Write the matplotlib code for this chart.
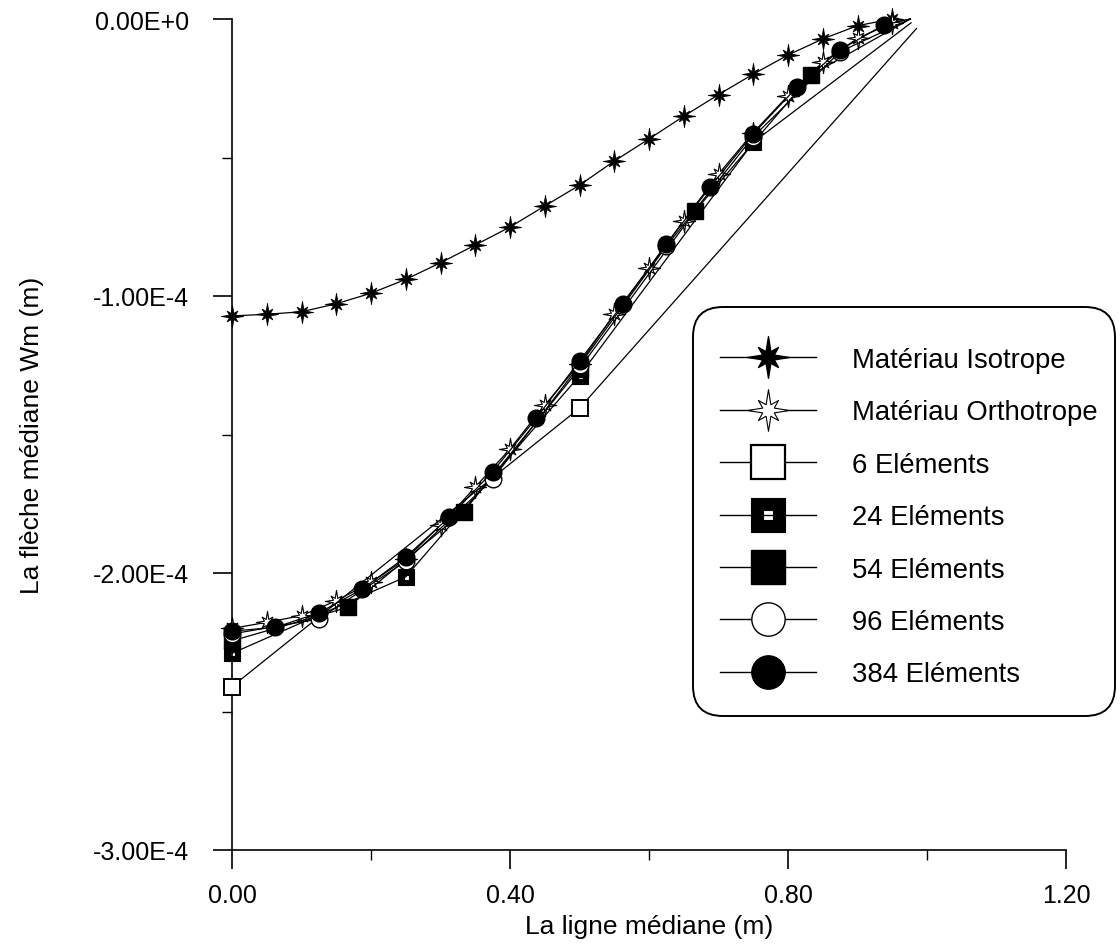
import numpy as np
import matplotlib
matplotlib.use("Agg")
import matplotlib.pyplot as plt
from matplotlib.lines import Line2D
from matplotlib.path import Path
from matplotlib.patches import FancyBboxPatch
from matplotlib.transforms import IdentityTransform

plt.rcParams['font.family'] = ['Liberation Sans', 'DejaVu Sans']

# ---- data (deflection values in units of 1e-4 m) ----
x_iso = [0.00, 0.05, 0.10, 0.15, 0.20, 0.25, 0.30, 0.35, 0.40, 0.45,
         0.50, 0.55, 0.60, 0.65, 0.70, 0.75, 0.80, 0.85, 0.90, 0.95]
w_iso = [-1.072, -1.066, -1.057, -1.028, -0.990, -0.940, -0.880, -0.816, -0.751, -0.675,
         -0.600, -0.513, -0.433, -0.351, -0.273, -0.199, -0.130, -0.072, -0.024, 0.000]

x_ortho = [0.00, 0.05, 0.10, 0.15, 0.20, 0.25, 0.30, 0.35, 0.40, 0.45,
           0.50, 0.55, 0.60, 0.65, 0.70, 0.75, 0.80, 0.85, 0.90, 0.95, 0.976]
w_ortho = [-2.200, -2.178, -2.154, -2.100, -2.034, -1.950, -1.827, -1.690, -1.552, -1.394,
           -1.245, -1.065, -0.900, -0.728, -0.560, -0.410, -0.277, -0.156, -0.070, -0.014, 0.000]

x_6 = [0.0, 0.5, 0.985]
w_6 = [-2.410, -1.405, -0.034]

x_24 = [0.0, 0.25, 0.5, 0.75, 0.977]
w_24 = [-2.290, -2.014, -1.288, -0.445, -0.014]

x_54 = [0.0, 0.1667, 0.3333, 0.5, 0.6667, 0.8333, 0.976]
w_54 = [-2.245, -2.124, -1.779, -1.262, -0.692, -0.202, 0.000]

x_96 = [0.0, 0.125, 0.25, 0.375, 0.5, 0.625, 0.75, 0.875, 0.976]
w_96 = [-2.220, -2.166, -1.958, -1.661, -1.250, -0.820, -0.425, -0.118, 0.000]

x_384 = [0.0, 0.0625, 0.125, 0.1875, 0.25, 0.3125, 0.375, 0.4375, 0.5,
         0.5625, 0.625, 0.6875, 0.75, 0.8125, 0.875, 0.9375, 0.976]
w_384 = [-2.210, -2.196, -2.144, -2.058, -1.942, -1.799, -1.634, -1.442, -1.234,
         -1.029, -0.812, -0.608, -0.415, -0.247, -0.111, -0.022, 0.000]

labels = ["Matériau Isotrope", "Matériau Orthotrope", "6 Eléments",
          "24 Eléments", "54 Eléments", "96 Eléments", "384 Eléments"]

x_ticks = [0.0, 0.4, 0.8, 1.2]
x_ticklabels = ["0.00", "0.40", "0.80", "1.20"]
y_ticks = [-3e-4, -2e-4, -1e-4, 0.0]
y_ticklabels = ["-3.00E-4", "-2.00E-4", "-1.00E-4", "0.00E+0"]

SCALE = 1e-4


def star_path():
    """Eight-spike star: long horizontal/vertical spikes, shorter diagonals."""
    verts = []
    for k in range(16):
        ang = np.pi / 2 + k * np.pi / 8
        if k % 4 == 0:
            r = 1.0
        elif k % 2 == 0:
            r = 0.68
        else:
            r = 0.3
        verts.append((r * np.cos(ang), r * np.sin(ang)))
    verts.append(verts[0])
    codes = [Path.MOVETO] + [Path.LINETO] * 15 + [Path.CLOSEPOLY]
    return Path(verts, codes)


def holed_square(hole=0.3):
    """Filled square with a small square opening in the middle."""
    outer = [(-1, -1), (1, -1), (1, 1), (-1, 1), (-1, -1)]
    inner = [(-hole, -hole), (-hole, hole), (hole, hole), (hole, -hole), (-hole, -hole)]
    codes = [Path.MOVETO, Path.LINETO, Path.LINETO, Path.LINETO, Path.CLOSEPOLY] * 2
    return Path(outer + inner, codes)


STAR = star_path()
HSQ = holed_square()


def body(n):
    """Marker indices: every point except the closing support point."""
    return list(range(n - 1))


fig = plt.figure(figsize=(11.2, 9.53), dpi=100)
ax = fig.add_axes([232 / 1120, 102 / 953, 834 / 1120, 831 / 953])

common = dict(color='black', lw=0.9, clip_on=False)

ax.plot(x_iso, np.array(w_iso) * SCALE, marker=STAR, ms=16, mfc='black',
        mec='black', mew=0.6, **common, zorder=3)
ax.plot(x_ortho, np.array(w_ortho) * SCALE, marker=STAR, ms=16, mfc='white',
        mec='black', mew=0.8, markevery=body(len(x_ortho)), **common, zorder=3)
ax.plot(x_6, np.array(w_6) * SCALE, marker='s', ms=12, mfc='white',
        mec='black', mew=1.4, markevery=body(len(x_6)), **common, zorder=4)
ax.plot(x_24, np.array(w_24) * SCALE, marker=HSQ, ms=12, mfc='black',
        mec='black', mew=0.8, markevery=body(len(x_24)), **common, zorder=4)
ax.plot(x_54, np.array(w_54) * SCALE, marker='s', ms=12, mfc='black',
        mec='black', mew=1.0, markevery=body(len(x_54)), **common, zorder=5)
ax.plot(x_96, np.array(w_96) * SCALE, marker='o', ms=12, mfc='white',
        mec='black', mew=1.0, markevery=body(len(x_96)), **common, zorder=5)
ax.plot(x_384, np.array(w_384) * SCALE, marker='o', ms=12, mfc='black',
        mec='black', mew=1.0, markevery=body(len(x_384)), **common, zorder=6)

# axes styling
ax.set_xlim(0, 1.2)
ax.set_ylim(-3e-4, 0)
for s in ('top', 'right'):
    ax.spines[s].set_visible(False)
for s in ('left', 'bottom'):
    ax.spines[s].set_linewidth(1.2)

ax.set_xticks(x_ticks)
ax.set_xticklabels(x_ticklabels)
ax.set_xticks([0.2, 0.6, 1.0], minor=True)
ax.set_yticks(y_ticks)
ax.set_yticklabels(y_ticklabels)
ax.set_yticks([-2.5e-4, -1.5e-4, -0.5e-4], minor=True)

ax.tick_params(axis='both', which='major', direction='out', length=14,
               width=1.2, labelsize=18)
ax.tick_params(axis='both', which='minor', direction='out', length=7, width=1.0)
ax.tick_params(axis='x', which='major', pad=10)
ax.tick_params(axis='y', which='major', pad=17)

ax.set_xlabel("La ligne médiane (m)", fontsize=19)
ax.set_ylabel("La flèche médiane Wm (m)", fontsize=19)
ax.xaxis.set_label_coords(0.5, -0.077)
ax.yaxis.set_label_coords(-0.226, 0.5)

# rounded legend frame (pixel coordinates), behind the legend entries
frame = FancyBboxPatch((693, 953 - 717), 422, 409,
                       boxstyle='round,pad=0,rounding_size=30',
                       transform=IdentityTransform(), facecolor='white',
                       edgecolor='black', linewidth=1.4, zorder=2.5,
                       clip_on=False)
ax.add_artist(frame)

# legend with enlarged symbols
big = dict(color='black', lw=1.0)
handles = [
    Line2D([], [], marker=STAR, ms=30, mfc='black', mec='black', **big),
    Line2D([], [], marker=STAR, ms=30, mfc='white', mec='black', mew=0.8, **big),
    Line2D([], [], marker='s', ms=24, mfc='white', mec='black', mew=1.6, **big),
    Line2D([], [], marker=HSQ, ms=24, mfc='black', mec='black', mew=0.8, **big),
    Line2D([], [], marker='s', ms=24, mfc='black', mec='black', **big),
    Line2D([], [], marker='o', ms=24, mfc='white', mec='black', mew=1.0, **big),
    Line2D([], [], marker='o', ms=24, mfc='black', mec='black', **big),
]
leg = ax.legend(handles, labels, loc='upper left',
                bbox_to_anchor=(720 / 1120, 1 - 348 / 953),
                bbox_transform=fig.transFigure, borderaxespad=0, borderpad=0,
                fontsize=19.8, frameon=False, labelspacing=0.96,
                handlelength=3.5, handletextpad=1.3)
leg.set_zorder(10)

fig.savefig("out.png", dpi=100, facecolor='white')
